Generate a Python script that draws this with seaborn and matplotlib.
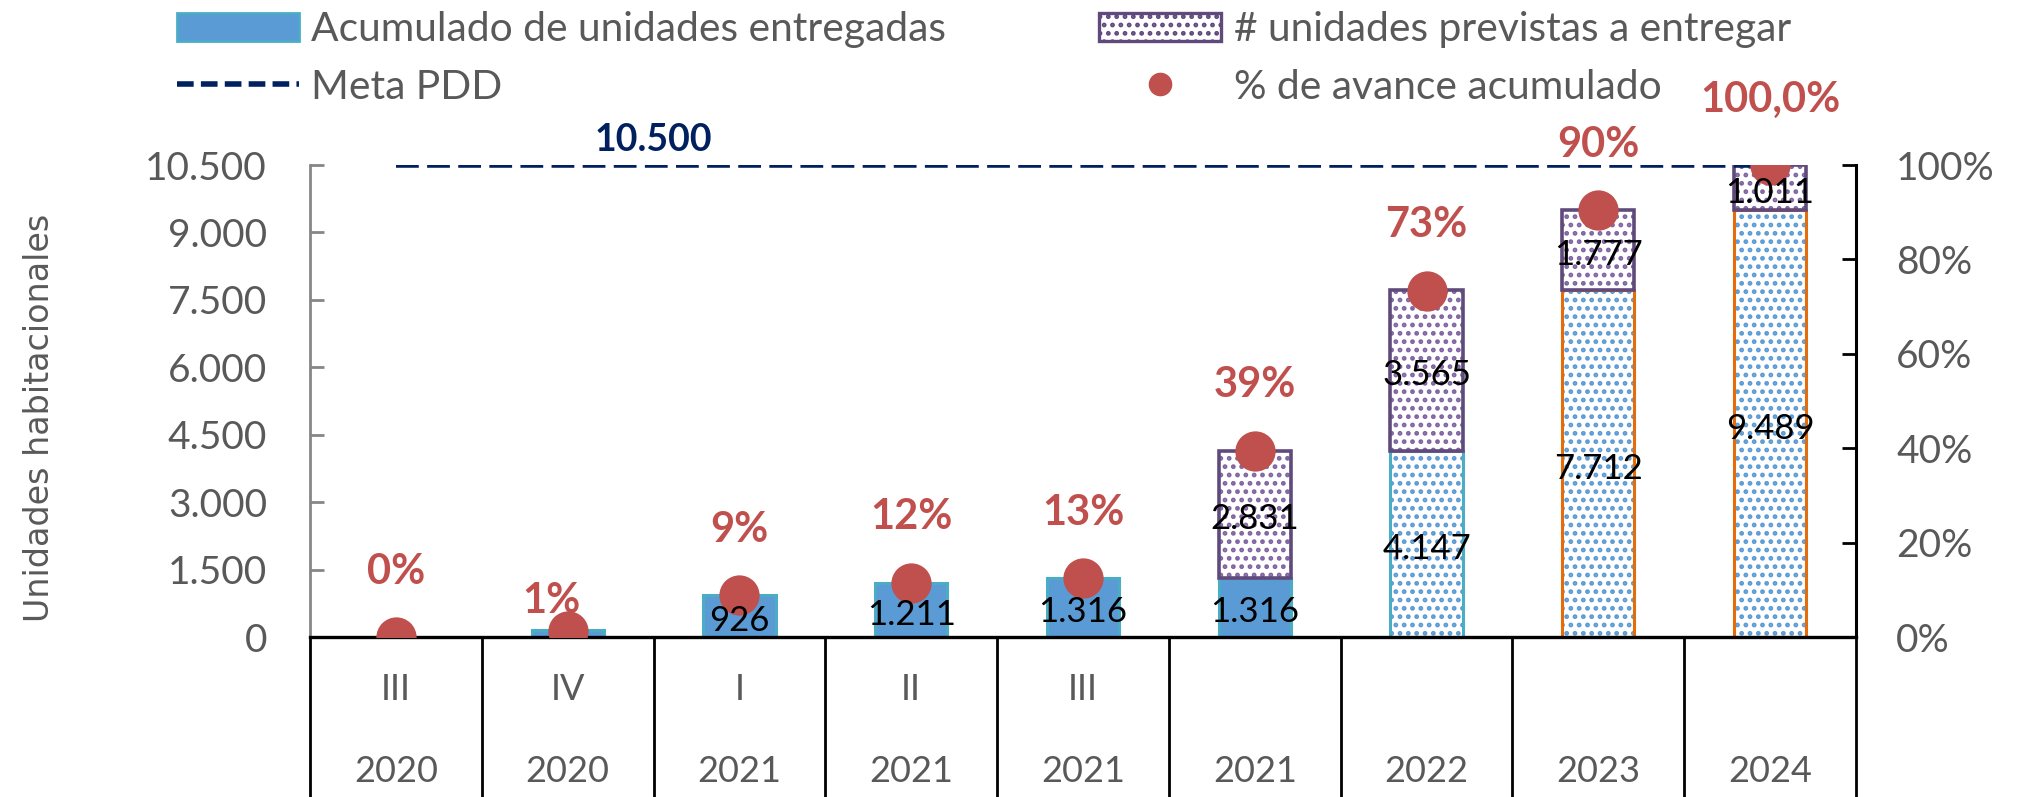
import matplotlib
matplotlib.use("Agg")
import matplotlib.pyplot as plt
import matplotlib.transforms as mtransforms
from matplotlib.patches import Patch
from matplotlib.lines import Line2D
import seaborn as sns
import numpy as np
import pandas as pd

# ---------------- data ----------------
periodos = ["III", "IV", "I", "II", "III", "", "", "", ""]
anios = ["2020", "2020", "2021", "2021", "2021", "2021", "2022", "2023", "2024"]
entregadas = [0, 150, 926, 1211, 1316, 1316, 4147, 7712, 9489]
previstas = [0, 0, 0, 0, 0, 2831, 3565, 1777, 1011]
avance = [0.0, 0.012, 0.088, 0.115, 0.125, 0.395, 0.734, 0.904, 1.0]
avance_labels = ["0%", "1%", "9%", "12%", "13%", "39%", "73%", "90%", "100,0%"]
meta = 10500
y_ticks = [0, 1500, 3000, 4500, 6000, 7500, 9000, 10500]
y2_ticks = [0.0, 0.2, 0.4, 0.6, 0.8, 1.0]

cats = [(p + " " + a).strip() for p, a in zip(periodos, anios)]
df = pd.DataFrame({"cat": cats, "entregadas": entregadas,
                   "previstas": previstas, "avance": avance})
n = len(cats)

# ---------------- style ----------------
GRAY = "#595959"
BLUE = "#5B9BD5"
TEAL = "#4BACC6"
ORANGE = "#E46C0A"
PURPLE_E = "#604A7B"
PURPLE_H = "#8064A2"
RED = "#C0504D"
NAVY = "#002060"
hatched = [False] * 6 + [True] * 3
edge_ent = [TEAL] * 7 + [ORANGE] * 2

sns.set_theme(style="white")
plt.rcParams["font.family"] = ["Lato", "DejaVu Sans"]
plt.rcParams["hatch.linewidth"] = 2.2

fig = plt.figure(figsize=(20.25, 7.97), dpi=100)
W, H = 2025, 797
ax = fig.add_axes([310 / W, 160 / H, (1856 - 310) / W, (637 - 165) / H])
bw = 0.42

# entregadas: fill / hatch layer
sns.barplot(data=df, x="cat", y="entregadas", order=cats, width=bw,
            color="white", saturation=1, errorbar=None, linewidth=0, ax=ax)
for i, p in enumerate(ax.patches):
    if hatched[i]:
        p.set_facecolor("white")
        p.set_hatch("..")
        p.set_edgecolor(BLUE)
    else:
        p.set_facecolor(BLUE)
        p.set_edgecolor(BLUE)
    p.set_linewidth(0)
    if entregadas[i] == 0:
        p.set_visible(False)
k1 = len(ax.patches)

# entregadas: outline layer
sns.barplot(data=df, x="cat", y="entregadas", order=cats, width=bw,
            color="white", saturation=1, errorbar=None, fill=False,
            linewidth=2.2, ax=ax)
for i, p in enumerate(ax.patches[k1:]):
    p.set_edgecolor(edge_ent[i])
    p.set_facecolor("none")
    p.set_linewidth(2.2)
    if entregadas[i] == 0:
        p.set_visible(False)
k2 = len(ax.patches)

# previstas: hatch layer
base = df["entregadas"].to_numpy()
sns.barplot(data=df, x="cat", y="previstas", order=cats, width=bw,
            color="white", saturation=1, errorbar=None, linewidth=0,
            bottom=base, ax=ax)
for i, p in enumerate(ax.patches[k2:]):
    p.set_facecolor("white")
    p.set_hatch("..")
    p.set_edgecolor(PURPLE_H)
    p.set_linewidth(0)
    if previstas[i] == 0:
        p.set_visible(False)
k3 = len(ax.patches)

# previstas: outline layer
sns.barplot(data=df, x="cat", y="previstas", order=cats, width=bw,
            color="white", saturation=1, errorbar=None, fill=False,
            linewidth=2.2, bottom=base, ax=ax)
for i, p in enumerate(ax.patches[k3:]):
    p.set_edgecolor(PURPLE_E)
    p.set_facecolor("none")
    p.set_linewidth(2.6)
    if previstas[i] == 0:
        p.set_visible(False)

# meta line
nl = len(ax.lines)
sns.lineplot(x=np.arange(n), y=np.full(n, meta), ax=ax, color=NAVY,
             estimator=None)
for ln in ax.lines[nl:]:
    ln.set_linewidth(4.0)
    ln.set_linestyle((0, (4.1, 1.5)))
    ln.set_dash_capstyle("butt")
ax.annotate(f"{meta:,}".replace(",", "."), xy=(1.5, meta), xytext=(0, 18),
            textcoords="offset points", ha="center", va="center",
            fontsize=27, fontweight="bold", color=NAVY, annotation_clip=False)

ax.set_xlim(-0.5, n - 0.5)
ax.set_ylim(0, meta)
ax.set_yticks(y_ticks)
ax.set_yticklabels([f"{v:,}".replace(",", ".") for v in y_ticks])
ax.set_xlabel("")
ax.set_ylabel("")
ax.tick_params(axis="x", bottom=False, labelbottom=False)
ax.tick_params(axis="y", direction="in", length=10, width=2, color="#868686",
               labelsize=28, labelcolor=GRAY, pad=31, left=True)
for s in ["top", "right"]:
    ax.spines[s].set_visible(False)
ax.spines["left"].set_color("#868686")
ax.spines["left"].set_linewidth(2)
ax.spines["bottom"].set_color("black")
ax.spines["bottom"].set_linewidth(2.4)

# secondary axis with dots
ax2 = ax.twinx()
sns.stripplot(data=df, x="cat", y="avance", order=cats, jitter=False,
              size=29, color=RED, linewidth=0, ax=ax2, zorder=5)
ax2.set_xlim(-0.5, n - 0.5)
ax2.set_ylim(0, 1)
ax2.set_yticks(y2_ticks)
ax2.set_yticklabels([f"{int(round(v * 100))}%" for v in y2_ticks])
ax2.set_xlabel("")
ax2.set_ylabel("")
ax2.tick_params(axis="x", bottom=False, labelbottom=False)
ax2.tick_params(axis="y", direction="in", length=10, width=2, color="black",
                labelsize=28, labelcolor=GRAY, pad=29, right=True)
for s in ["top", "left", "bottom"]:
    ax2.spines[s].set_visible(False)
ax2.spines["right"].set_color("black")
ax2.spines["right"].set_linewidth(2.2)

# percent labels
for i, lab in enumerate(avance_labels):
    dx, dy = (0, 47)
    if i == 1:
        dx, dy = (-12, 22)
    ax2.annotate(lab, xy=(i, avance[i]), xytext=(dx, dy),
                 textcoords="offset points", ha="center", va="center",
                 fontsize=30, fontweight="bold", color=RED,
                 annotation_clip=False, zorder=12)

# bar value labels
def fmt(v):
    return f"{v:,}".replace(",", ".")

for i in range(n):
    if entregadas[i] >= 500:
        ax2.annotate(fmt(entregadas[i]), xy=(i, entregadas[i] / 2),
                     xycoords=ax.transData, xytext=(0, -3.5),
                     textcoords="offset points", ha="center", va="center",
                     fontsize=25, color="black", zorder=11)
    if previstas[i] > 0:
        ax2.annotate(fmt(previstas[i]), xy=(i, entregadas[i] + previstas[i] / 2),
                     xycoords=ax.transData, xytext=(0, -3.5),
                     textcoords="offset points", ha="center", va="center",
                     fontsize=25, color="black", zorder=11)

# category table below the axis
blend = mtransforms.blended_transform_factory(ax.transData, ax.transAxes)
for b in np.arange(-0.5, n, 1.0):
    ax.plot([b, b], [0, -0.36], transform=blend, color="black", lw=2,
            clip_on=False, solid_capstyle="butt")
for i in range(n):
    ax.text(i, -0.112, periodos[i], transform=blend, ha="center", va="center",
            fontsize=26, color=GRAY)
    ax.text(i, -0.286, anios[i], transform=blend, ha="center", va="center",
            fontsize=26, color=GRAY)

# y label
fig.text(40 / W, 1 - 418 / H, "Unidades habitacionales", rotation=90,
         ha="center", va="center", fontsize=24, color=GRAY,
         family=["DejaVu Sans"])

# legend
handles = [
    Patch(facecolor=BLUE, edgecolor=TEAL, linewidth=2),
    Line2D([], [], color=NAVY, lw=4.0, ls=(0, (3.0, 1.3))),
    Patch(facecolor="white", edgecolor=PURPLE_E, hatch="..", linewidth=2.4),
    Line2D([], [], marker="o", ls="", color=RED, markersize=16),
]
labels = ["Acumulado de unidades entregadas", "Meta PDD",
          "# unidades previstas a entregar", "% de avance acumulado"]
fig.legend(handles, labels, loc="upper left", bbox_to_anchor=(177 / W, 0.986),
           ncol=2, frameon=False, fontsize=29.3, labelcolor=GRAY,
           handlelength=3.0, handleheight=0.7, handletextpad=0.3,
           columnspacing=3.76, labelspacing=0.5, borderaxespad=0, borderpad=0)

fig.savefig("out.png", dpi=100)
